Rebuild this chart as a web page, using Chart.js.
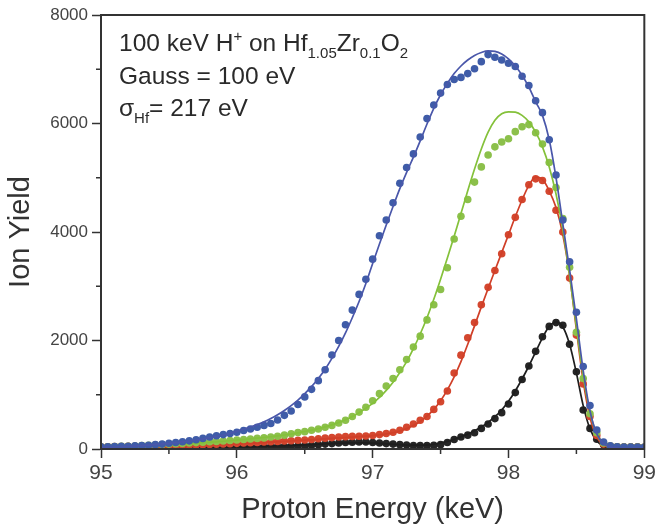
<!DOCTYPE html>
<html><head><meta charset="utf-8">
<script src="https://cdn.jsdelivr.net/npm/chart.js@4/dist/chart.umd.min.js"></script>
<style>html,body{margin:0;padding:0;background:#fff}#c{display:block}</style>
</head><body>
<canvas id="c" width="659" height="528"></canvas>
<script>
// Proton energy (keV) sampling of the measured spectra
const energy = [
  95.00,95.05,95.10,95.15,95.20,95.25,95.30,95.35,95.40,95.45,95.50,95.55,95.60,95.65,95.70,95.75,95.80,95.85,95.90,95.95,
  96.00,96.05,96.10,96.15,96.20,96.25,96.30,96.35,96.40,96.45,96.50,96.55,96.60,96.65,96.70,96.75,96.80,96.85,96.90,96.95,
  97.00,97.05,97.10,97.15,97.20,97.25,97.30,97.35,97.40,97.45,97.50,97.55,97.60,97.65,97.70,97.75,97.80,97.85,97.90,97.95,
  98.00,98.05,98.10,98.15,98.20,98.25,98.30,98.35,98.40,98.45,98.50,98.55,98.60,98.65,98.70,98.75,98.80,98.85,98.90,98.95,
  99.00];

// Measured ion yield (dots)
const blueData = [
  40,42,45,48,52,57,63,70,80,90,105,120,135,150,170,195,220,245,265,285,
  310,340,370,400,435,470,535,620,700,820,960,1100,1260,1460,1733,2000,2290,2560,2850,3130,
  3500,3930,4220,4540,4898,5190,5440,5750,6090,6340,6560,6720,6810,6850,6920,7010,7140,7270,7220,7170,
  7110,7050,6870,6700,6420,6200,5700,5050,4220,3450,2520,1520,800,350,130,60,40,36,35,34,
  33];
const greenData = [
  40,42,45,48,52,56,62,68,75,82,90,97,103,110,118,125,133,140,148,157,
  166,175,185,195,205,220,235,255,280,305,320,345,370,400,435,480,530,600,680,770,
  890,1020,1160,1300,1460,1650,1880,2080,2380,2660,2940,3340,3870,4290,4600,4920,5200,5420,5570,5660,
  5720,5850,5940,5980,5830,5620,5280,4820,4250,3350,2150,1300,650,300,110,55,40,36,35,34,
  33];
const redData = [
  40,42,44,46,48,50,52,54,56,58,60,63,66,70,74,78,82,87,92,98,
  104,110,116,122,128,134,140,147,153,160,166,175,190,200,210,220,228,232,235,240,
  250,265,285,310,345,400,460,530,600,730,870,1070,1400,1730,2050,2330,2660,2980,3290,3600,
  3950,4270,4600,4870,4980,4950,4750,4400,4000,3150,2100,1200,600,250,90,50,40,36,35,34,
  33];
const blackData = [
  30,30,31,31,32,32,33,33,34,34,35,35,36,36,37,37,38,38,39,39,
  40,40,41,42,43,44,45,47,50,55,60,70,80,90,100,110,120,125,130,128,
  120,110,100,90,80,72,65,62,62,68,80,120,175,220,255,300,380,460,560,670,
  830,1040,1280,1530,1800,2070,2260,2330,2280,1930,1425,720,380,180,80,45,38,36,35,34,
  33];

// Fitted curves (solid lines)
const blueFit = [
  30,33,37,42,48,55,63,72,82,93,105,118,132,148,166,186,208,232,258,288,
  330,365,405,450,500,560,630,710,800,900,1020,1150,1300,1470,1670,1890,2140,2420,2720,3050,
  3420,3780,4130,4470,4800,5100,5380,5680,5990,6280,6530,6740,6920,7060,7170,7255,7310,7340,7330,7280,
  7190,7060,6890,6670,6400,6150,5700,5000,4150,3300,2400,1450,700,280,100,40,22,18,18,18,
  18];
const greenFit = [
  25,28,31,35,40,45,50,56,62,68,75,82,90,98,106,115,124,133,143,153,
  164,175,187,199,212,226,241,258,277,298,322,348,376,408,445,490,540,600,670,750,
  840,950,1080,1230,1410,1610,1850,2120,2420,2760,3130,3520,3920,4340,4760,5160,5530,5840,6060,6180,
  6215,6210,6150,6030,5840,5570,5200,4700,4050,3200,2250,1350,680,270,95,35,20,18,18,18,
  18];
const redFit = [
  25,27,29,31,33,35,37,39,42,45,48,51,54,58,62,66,70,75,80,85,
  91,97,103,110,117,124,131,139,147,155,163,171,180,188,196,204,212,220,228,237,
  247,260,277,300,332,375,432,507,605,730,890,1090,1330,1610,1930,2270,2620,2960,3290,3620,
  3950,4280,4590,4860,5010,4970,4760,4450,3950,3200,2200,1250,580,220,75,28,18,17,17,17,
  17];
const blackFit = [
  20,20,21,21,22,22,23,24,25,26,27,28,29,30,32,33,35,37,39,41,
  43,45,48,51,54,57,60,64,68,72,77,82,88,94,100,106,110,113,114,112,
  108,102,95,88,80,74,70,70,75,88,110,140,180,225,275,335,405,490,595,720,
  880,1070,1290,1530,1790,2050,2260,2340,2250,1930,1400,800,370,150,55,25,18,17,17,17,
  17];

const xTicks = [95, 96, 97, 98, 99];
const xMinorTicks = [95.5, 96.5, 97.5, 98.5];
const yTicks = [0, 2000, 4000, 6000, 8000];
const yMinorTicks = [1000, 3000, 5000, 7000];

const FONT = "'Liberation Sans', Arial, Helvetica, sans-serif";
const COL = {
  blueDot:'#3f5ca8', blueLine:'#4a57aa',
  greenDot:'#8cc04b', greenLine:'#84c13a',
  redDot:'#d4472f', redLine:'#d03f28',
  blackDot:'#252525', blackLine:'#1e1e1e'
};

function pts(ys){ return energy.map((x,i)=>({x:x, y:ys[i]})); }
function dots(ys,color,order){
  return {data:pts(ys), showLine:false, pointRadius:3.8, pointBackgroundColor:color,
          pointBorderWidth:0, pointHoverRadius:3.8, order:order};
}
function fit(ys,color,order){
  return {data:pts(ys), showLine:true, borderColor:color, borderWidth:1.7, pointRadius:0,
          cubicInterpolationMode:'monotone', fill:false, order:order};
}

const decor = {
  id:'decor',
  afterDraw(chart){
    const ctx = chart.ctx, a = chart.chartArea;
    const xs = chart.scales.x, ys = chart.scales.y;
    ctx.save();
    // frame
    ctx.strokeStyle = '#333'; ctx.lineWidth = 2;
    ctx.strokeRect(a.left, a.top, a.right - a.left, a.bottom - a.top);
    // minor ticks
    ctx.lineWidth = 1.5;
    ctx.beginPath();
    xMinorTicks.forEach(v=>{ const p = xs.getPixelForValue(v); ctx.moveTo(p, a.bottom); ctx.lineTo(p, a.bottom+5); });
    yMinorTicks.forEach(v=>{ const p = ys.getPixelForValue(v); ctx.moveTo(a.left-5, p); ctx.lineTo(a.left, p); });
    ctx.stroke();
    // annotation
    ctx.fillStyle = '#2a2a2a';
    ctx.textBaseline = 'alphabetic';
    ctx.textAlign = 'left';
    const big = '24.5px ' + FONT, small = '15px ' + FONT;
    function runs(x, y, list){
      list.forEach(r=>{
        ctx.font = r[1] === 0 ? big : small;
        ctx.fillText(r[0], x, y + r[1]);
        x += ctx.measureText(r[0]).width;
      });
    }
    runs(119, 51, [['100 keV H',0],['+',-10],[' on Hf',0],['1.05',7],['Zr',0],['0.1',7],['O',0],['2',7]]);
    runs(119, 84, [['Gauss = 100 eV',0]]);
    runs(119, 116, [['\u03c3',0],['Hf',7],['= 217 eV',0]]);
    ctx.restore();
  }
};

new Chart(document.getElementById('c'), {
  type:'scatter',
  data:{datasets:[
    fit(blueFit, COL.blueLine, 1),   dots(blueData, COL.blueDot, 2),
    fit(greenFit, COL.greenLine, 3), dots(greenData, COL.greenDot, 4),
    fit(redFit, COL.redLine, 5),     dots(redData, COL.redDot, 6),
    fit(blackFit, COL.blackLine, 7), dots(blackData, COL.blackDot, 8)
  ]},
  options:{
    responsive:false, animation:false, devicePixelRatio:1,
    layout:{padding:{top:15, right:14, left:0, bottom:0}},
    plugins:{legend:{display:false}, tooltip:{enabled:false}},
    scales:{
      x:{type:'linear', min:95, max:99,
        afterBuildTicks(s){ s.ticks = xTicks.map(v=>({value:v})); },
        ticks:{font:{family:FONT, size:21}, color:'#444', padding:3, maxRotation:0,
               callback:(v)=>String(v)},
        grid:{drawOnChartArea:false, drawTicks:true, tickLength:9, tickColor:'#333', tickWidth:1.5},
        border:{display:true, color:'#333', width:2},
        title:{display:true, text:'Proton Energy (keV)', font:{family:FONT, size:29}, color:'#333',
               padding:{top:0, bottom:1}},
        afterFit(s){ s.height = 79; }
      },
      y:{type:'linear', min:0, max:8000,
        afterBuildTicks(s){ s.ticks = yTicks.map(v=>({value:v})); },
        ticks:{font:{family:FONT, size:17}, color:'#444', padding:4, callback:(v)=>String(v)},
        grid:{drawOnChartArea:false, drawTicks:true, tickLength:9, tickColor:'#333', tickWidth:1.5},
        border:{display:true, color:'#333', width:2},
        title:{display:true, text:'Ion Yield', font:{family:FONT, size:29}, color:'#333',
               padding:{top:4, bottom:0}},
        afterFit(s){ s.width = 101; }
      }
    }
  },
  plugins:[decor]
});
</script>
</body></html>
